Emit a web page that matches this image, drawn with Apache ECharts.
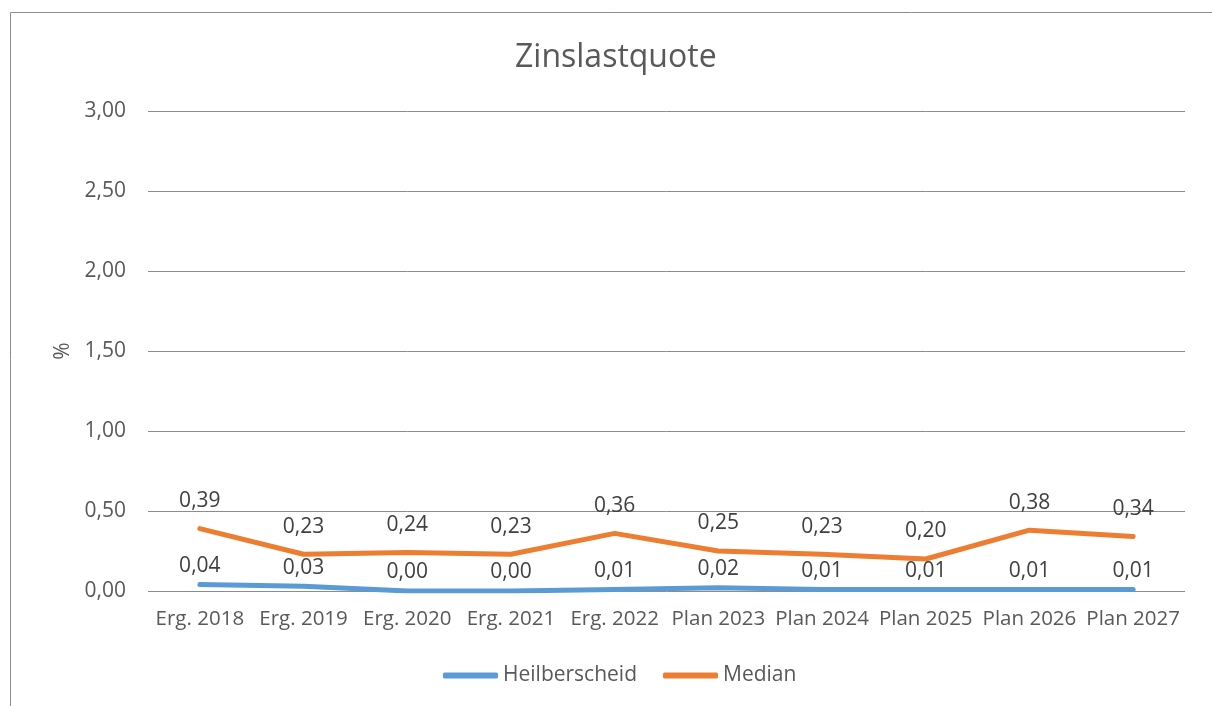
<!DOCTYPE html>
<html><head><meta charset="utf-8">
<script src="https://cdn.jsdelivr.net/npm/echarts@6/dist/echarts.min.js"></script>
<style>html,body{margin:0;padding:0;background:#fff}#c{width:1212px;height:706px}</style>
</head><body><div id="c"></div>
<script>
const categories = ['Erg. 2018','Erg. 2019','Erg. 2020','Erg. 2021','Erg. 2022','Plan 2023','Plan 2024','Plan 2025','Plan 2026','Plan 2027'];
const heilberscheid = [0.04,0.03,0.00,0.00,0.01,0.02,0.01,0.01,0.01,0.01];
const median = [0.39,0.23,0.24,0.23,0.36,0.25,0.23,0.20,0.38,0.34];
const fmt = v => v.toFixed(2).replace('.', ',');
const font = '"Open Sans", "Liberation Sans", sans-serif';
const chart = echarts.init(document.getElementById('c'));
chart.setOption({
  animation: false,
  textStyle: {fontFamily: font},
  title: {text: 'Zinslastquote', left: 510, top: 37, textStyle: {fontSize: 32, fontWeight: 'normal', color: '#595959', fontFamily: font}},
  graphic: [
    {type: 'line', shape: {x1: 10.5, y1: 12.5, x2: 10.5, y2: 706}, style: {stroke: '#8c8c8c', lineWidth: 1}},
    {type: 'line', shape: {x1: 10.5, y1: 12.5, x2: 1212, y2: 12.5}, style: {stroke: '#8c8c8c', lineWidth: 1}}
  ],
  grid: {left: 148, right: 27, top: 111, bottom: 115, containLabel: false},
  legend: {bottom: 15, left: 438, itemWidth: 55, itemHeight: 6, itemGap: 26, icon: 'roundRect',
    textStyle: {fontSize: 21, color: '#595959', fontFamily: font},
    data: ['Heilberscheid', 'Median']},
  xAxis: {type: 'category', data: categories, boundaryGap: true,
    axisLine: {show: false}, axisTick: {show: false},
    axisLabel: {fontSize: 20.5, color: '#595959', margin: 18, interval: 0, fontFamily: font}},
  yAxis: {type: 'value', min: 0, max: 3, interval: 0.5,
    name: '%', nameLocation: 'middle', nameGap: 74, nameRotate: 90,
    nameTextStyle: {fontSize: 21, color: '#595959', fontFamily: font},
    axisLabel: {formatter: v => fmt(v), fontSize: 21, color: '#595959', margin: 22, fontFamily: font},
    splitLine: {lineStyle: {color: '#8c8c8c', width: 1}}},
  series: [
    {name: 'Heilberscheid', type: 'line', data: heilberscheid, showSymbol: true, symbol: 'circle', symbolSize: 0.1,
      lineStyle: {width: 5, color: '#5b9bd5', cap: 'round', join: 'round'}, itemStyle: {color: '#5b9bd5'},
      label: {show: true, position: 'top', distance: 8, formatter: p => fmt(p.value), fontSize: 21, color: '#404040', fontFamily: font}},
    {name: 'Median', type: 'line', data: median, showSymbol: true, symbol: 'circle', symbolSize: 0.1,
      lineStyle: {width: 5, color: '#ed7d31', cap: 'round', join: 'round'}, itemStyle: {color: '#ed7d31'},
      label: {show: true, position: 'top', distance: 17, formatter: p => fmt(p.value), fontSize: 21, color: '#404040', fontFamily: font}}
  ]
});
</script></body></html>
